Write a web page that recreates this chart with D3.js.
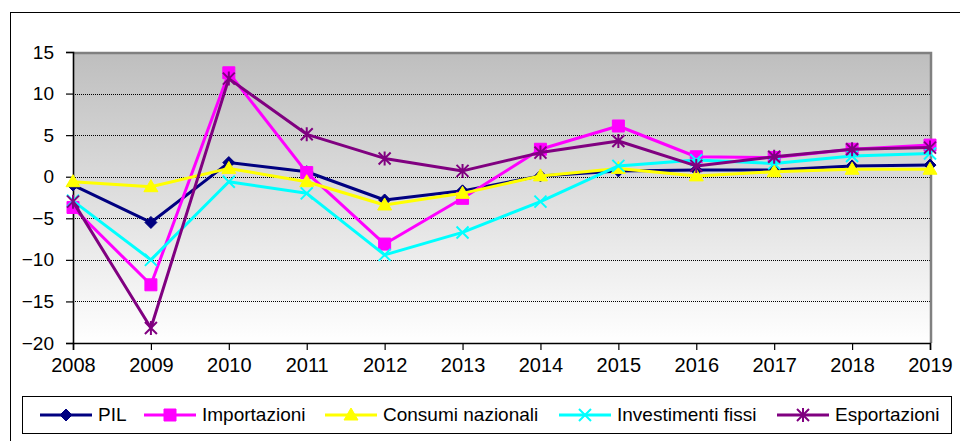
<!DOCTYPE html>
<html>
<head>
<meta charset="utf-8">
<script src="https://cdn.jsdelivr.net/npm/d3@7"></script>
<style>
  body { margin: 0; background: #fff; }
  svg { display: block; font-family: "Liberation Sans", Arial, sans-serif; }
</style>
</head>
<body>
<div id="chart"></div>
<script>
// values
const years = [2008, 2009, 2010, 2011, 2012, 2013, 2014, 2015, 2016, 2017, 2018, 2019];
const pil = [-1.0, -5.5, 1.7, 0.6, -2.8, -1.7, 0.1, 0.7, 0.8, 0.8, 1.3, 1.4];
const importazioni = [-3.7, -13.0, 12.5, 0.5, -8.1, -2.6, 3.3, 6.1, 2.4, 2.3, 3.3, 3.8];
const consumi = [-0.6, -1.2, 1.0, -0.6, -3.4, -2.0, 0.1, 1.0, 0.1, 0.6, 0.9, 0.9];
const investimenti = [-2.9, -10.0, -0.6, -2.0, -9.4, -6.7, -3.0, 1.3, 2.0, 1.6, 2.5, 2.8];
const esportazioni = [-3.0, -18.2, 11.8, 5.1, 2.2, 0.7, 2.9, 4.3, 1.3, 2.4, 3.3, 3.5];
const yTicks = [-20, -15, -10, -5, 0, 5, 10, 15];

const seriesNames = ["PIL", "Importazioni", "Consumi nazionali", "Investimenti fissi", "Esportazioni"];
const seriesValues = [pil, importazioni, consumi, investimenti, esportazioni];
const seriesColors = ["#000080", "#ff00ff", "#ffff00", "#00ffff", "#800080"];
const seriesMarkers = ["diamond", "square", "triangle", "cross", "star"];

const width = 960;
const height = 441;
const plot = { left: 73, right: 930, top: 52, bottom: 343 };

const svg = d3.select("#chart").append("svg")
    .attr("width", width)
    .attr("height", height);

// outer chart frame (runs off the picture on the right and bottom)
svg.append("rect")
    .attr("x", 10.5).attr("y", 12.5)
    .attr("width", 980).attr("height", 460)
    .attr("fill", "#fff")
    .attr("stroke", "#000")
    .attr("stroke-width", 1);

const x = d3.scaleLinear()
    .domain([d3.min(years), d3.max(years)])
    .range([plot.left, plot.right]);

const y = d3.scaleLinear()
    .domain([-20, 15])
    .range([plot.bottom, plot.top]);

// plot area gradient
const grad = svg.append("defs").append("linearGradient")
    .attr("id", "bg").attr("x1", 0).attr("y1", 0).attr("x2", 0).attr("y2", 1);
grad.append("stop").attr("offset", "0%").attr("stop-color", "#bebebe");
grad.append("stop").attr("offset", "100%").attr("stop-color", "#ffffff");

svg.append("rect")
    .attr("x", plot.left).attr("y", plot.top)
    .attr("width", plot.right - plot.left)
    .attr("height", plot.bottom - plot.top)
    .attr("fill", "url(#bg)");

// dotted gridlines
svg.append("g").selectAll("line")
    .data(yTicks.filter(function(d) { return d > -20 && d < 15; }))
    .enter().append("line")
    .attr("x1", plot.left).attr("x2", plot.right)
    .attr("y1", function(d) { return Math.round(y(d)) + 0.5; })
    .attr("y2", function(d) { return Math.round(y(d)) + 0.5; })
    .attr("stroke", "#000")
    .attr("stroke-width", 1)
    .attr("stroke-dasharray", "1,1");

// gray border on top and right of plot area
svg.append("path")
    .attr("d", "M" + plot.left + "," + (plot.top + 1) + "H" + (plot.right + 1) + "V" + plot.bottom)
    .attr("fill", "none")
    .attr("stroke", "#808080")
    .attr("stroke-width", 2.5);

// axes
const yAxis = svg.append("g")
    .attr("transform", "translate(" + plot.left + ",0)")
    .call(d3.axisLeft(y).tickValues(yTicks).tickSize(7).tickPadding(12));

const xAxis = svg.append("g")
    .attr("transform", "translate(0," + plot.bottom + ")")
    .call(d3.axisBottom(x).tickValues(years).tickFormat(d3.format("d")).tickSize(7).tickPadding(8));

[yAxis, xAxis].forEach(function(ax) {
  ax.select(".domain").attr("stroke", "#000").attr("stroke-width", 1.6);
  ax.selectAll(".tick line").attr("stroke", "#000").attr("stroke-width", 1.2);
  ax.selectAll("text")
    .attr("fill", "#000")
    .style("font-family", "'Liberation Sans', Arial, sans-serif");
});
yAxis.selectAll("text").style("font-size", "19px");
xAxis.selectAll("text").style("font-size", "20px");

// marker shapes
function markerPath(type) {
  if (type === "diamond") return "M0,-6L6,0L0,6L-6,0Z";
  if (type === "square") return "M-6,-6H6V6H-6Z";
  if (type === "triangle") return "M0,-7L7,5H-7Z";
  if (type === "cross") return "M-6,-6L6,6M6,-6L-6,6";
  return "M-6,-6L6,6M6,-6L-6,6M0,-7V7";
}

function drawMarker(g, type, color) {
  const filled = type === "diamond" || type === "square" || type === "triangle";
  g.append("path")
    .attr("d", markerPath(type))
    .attr("fill", filled ? color : "none")
    .attr("stroke", color)
    .attr("stroke-width", filled ? 1 : 2);
}

const line = d3.line()
    .x(function(d, i) { return x(years[i]); })
    .y(function(d) { return y(d); });

seriesValues.forEach(function(vals, s) {
  svg.append("path")
    .datum(vals)
    .attr("d", line)
    .attr("fill", "none")
    .attr("stroke", seriesColors[s])
    .attr("stroke-width", 3)
    .attr("stroke-linejoin", "round");

  vals.forEach(function(v, i) {
    const g = svg.append("g")
      .attr("transform", "translate(" + x(years[i]) + "," + y(v) + ")");
    drawMarker(g, seriesMarkers[s], seriesColors[s]);
  });
});

// legend
svg.append("rect")
    .attr("x", 22.5).attr("y", 396.5)
    .attr("width", 929).attr("height", 37)
    .attr("fill", "#fff")
    .attr("stroke", "#000")
    .attr("stroke-width", 1);

const legendX = [40, 144, 325, 559, 777];
seriesNames.forEach(function(name, s) {
  const g = svg.append("g").attr("transform", "translate(" + legendX[s] + ",415)");
  g.append("line")
    .attr("x1", 0).attr("x2", 52)
    .attr("stroke", seriesColors[s])
    .attr("stroke-width", 3);
  drawMarker(g.append("g").attr("transform", "translate(26,0)"), seriesMarkers[s], seriesColors[s]);
  g.append("text")
    .attr("x", 58)
    .attr("y", 6)
    .style("font-size", "19px")
    .attr("fill", "#000")
    .text(name);
});
</script>
</body>
</html>
